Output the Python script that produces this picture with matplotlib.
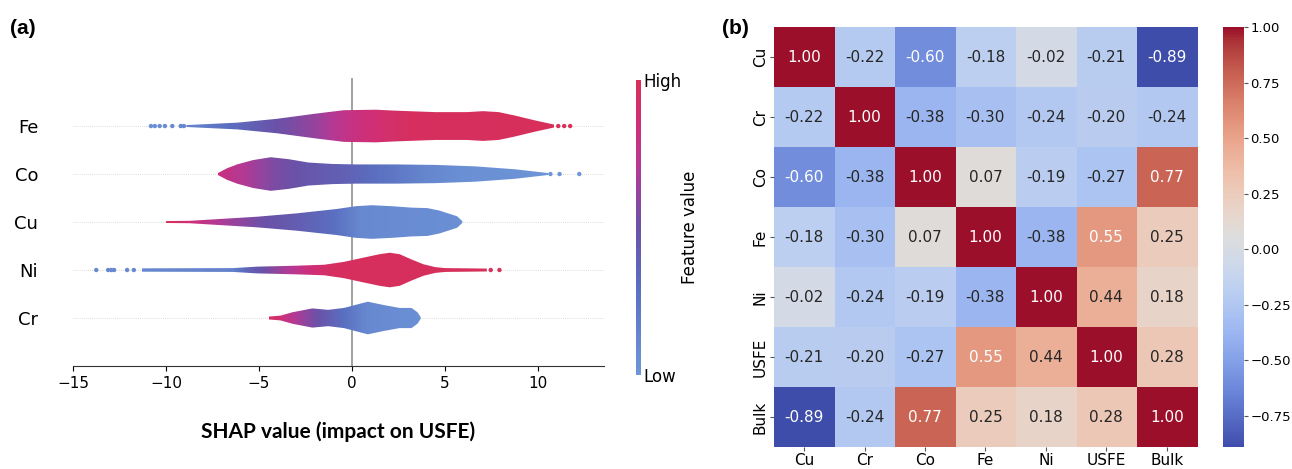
import numpy as np
import matplotlib
matplotlib.use("Agg")
import matplotlib.pyplot as plt
from matplotlib.colors import LinearSegmentedColormap, ListedColormap, Normalize
from matplotlib.patches import Polygon

# ---- panel (a): SHAP violin summary ----
features = ["Fe", "Co", "Cu", "Ni", "Cr"]   # top to bottom

# violin outline: x knots and half widths (row spacing = 1)
prof_x = {
    "Fe": [-8.9, -6.18, -4.05, -1.92, -0.43, 1.28, 2.35, 4.48, 6.18, 7.04, 7.89, 8.74, 9.81, 10.87],
    "Co": [-7.21, -6.72, -6.18, -5.33, -4.37, -3.41, -2.35, -1.07, 0.21, 2.35, 4.48, 6.61, 8.74, 10.55],
    "Cu": [-10.02, -8.74, -7.25, -5.12, -2.99, -0.85, 0.21, 1.07, 2.13, 3.20, 4.05, 4.69, 5.33, 5.65, 5.93],
    "Ni": [-11.3, -6.4, -5.12, -2.99, -1.49, -0.43, 0.64, 1.49, 2.03, 2.56, 3.20, 3.84, 4.48, 5.01, 7.25],
    "Cr": [-4.48, -3.84, -3.20, -2.13, -1.28, -0.43, 0.85, 1.71, 2.56, 3.20, 3.52, 3.69],
}
prof_w = {
    "Fe": [0.02, 0.07, 0.15, 0.26, 0.33, 0.34, 0.32, 0.29, 0.29, 0.31, 0.29, 0.22, 0.12, 0.03],
    "Co": [0.02, 0.12, 0.20, 0.29, 0.35, 0.31, 0.24, 0.21, 0.20, 0.20, 0.19, 0.16, 0.10, 0.02],
    "Cu": [0.02, 0.025, 0.06, 0.11, 0.18, 0.27, 0.33, 0.35, 0.33, 0.30, 0.29, 0.24, 0.16, 0.12, 0.02],
    "Ni": [0.035, 0.04, 0.07, 0.09, 0.11, 0.17, 0.26, 0.33, 0.36, 0.33, 0.22, 0.12, 0.06, 0.04, 0.03],
    "Cr": [0.03, 0.05, 0.12, 0.20, 0.17, 0.21, 0.34, 0.27, 0.21, 0.21, 0.12, 0.02],
}
# mean feature value (0 = low, 1 = high) along x
col_x = {
    "Fe": [-10.8, -8.5, -6, -4, -2, 0, 1.5, 3, 12],
    "Co": [-7.2, -6, -4.2, -2, 0, 2, 4, 6, 12.3],
    "Cu": [-10, -8.7, -7, -5, -3, -1, 0.5, 6],
    "Ni": [-13.8, -6.5, -5.5, -4, -2.5, -1, 8],
    "Cr": [-4.5, -3.6, -2.5, -1.5, -0.5, 0.8, 3.7],
}
col_v = {
    "Fe": [0.05, 0.15, 0.35, 0.5, 0.62, 0.8, 0.88, 0.97, 1.0],
    "Co": [0.82, 0.72, 0.55, 0.45, 0.38, 0.25, 0.12, 0.05, 0.0],
    "Cu": [1.0, 0.85, 0.68, 0.52, 0.42, 0.3, 0.1, 0.05],
    "Ni": [0.1, 0.15, 0.4, 0.62, 0.82, 0.97, 1.0],
    "Cr": [1.0, 0.8, 0.6, 0.45, 0.3, 0.1, 0.05],
}
# outlier dots
dots = {
    "Fe": [-10.81, -10.60, -10.34, -10.06, -9.66, -9.21, -9.04, 11.09, 11.41, 11.73],
    "Co": [10.67, 11.16, 12.22],
    "Cu": [],
    "Ni": [-13.75, -13.11, -12.94, -12.79, -12.09, -11.73, 7.46, 7.93],
    "Cr": [],
}

# ---- panel (b): correlation matrix ----
corr_labels = ["Cu", "Cr", "Co", "Fe", "Ni", "USFE", "Bulk"]
corr = np.array([
    [1.00, -0.22, -0.60, -0.18, -0.02, -0.21, -0.89],
    [-0.22, 1.00, -0.38, -0.30, -0.24, -0.20, -0.24],
    [-0.60, -0.38, 1.00, 0.07, -0.19, -0.27, 0.77],
    [-0.18, -0.30, 0.07, 1.00, -0.38, 0.55, 0.25],
    [-0.02, -0.24, -0.19, -0.38, 1.00, 0.44, 0.18],
    [-0.21, -0.20, -0.27, 0.55, 0.44, 1.00, 0.28],
    [-0.89, -0.24, 0.77, 0.25, 0.18, 0.28, 1.00],
])
cbar_ticks = [-0.75, -0.50, -0.25, 0.00, 0.25, 0.50, 0.75, 1.00]

shap_cmap = LinearSegmentedColormap.from_list("shapish", [
    (0.0, "#6e96d8"), (0.3, "#5a6fc0"), (0.5, "#6a52a8"),
    (0.7, "#b23a96"), (0.85, "#cf2f78"), (1.0, "#d8305a")])

# coolwarm, a little washed out like the scanned figure
cw = plt.cm.coolwarm(np.linspace(0, 1, 256))[:, :3]
gray = (cw @ np.array([0.299, 0.587, 0.114]))[:, None]
heat_cmap = ListedColormap(np.clip(0.8 * cw + 0.2 * gray, 0, 1))

fig = plt.figure(figsize=(12.92, 4.69), dpi=100)

# ---------------- (a) ----------------
ax = fig.add_axes([0.0565, 0.2196, 0.411, 0.614])
n = len(features)
ax.axvline(0, color="#999999", lw=1.3, zorder=0)
for i, name in enumerate(features):
    y = n - 1 - i
    ax.plot([-15, 13.55], [y, y], color="#d0d0d0", lw=0.6, dashes=(1, 1.5), zorder=-1)
    xs = np.array(prof_x[name])
    hw = np.array(prof_w[name])
    verts = np.concatenate([np.column_stack([xs, y + hw]),
                            np.column_stack([xs[::-1], y - hw[::-1]])])
    patch = Polygon(verts, closed=True, facecolor="none", edgecolor="none")
    ax.add_patch(patch)
    gx = np.linspace(xs[0], xs[-1], 500)
    gc = np.interp(gx, col_x[name], col_v[name])
    im = ax.imshow(gc[None, :], cmap=shap_cmap, vmin=0, vmax=1, aspect="auto",
                   extent=[xs[0], xs[-1], y - 0.5, y + 0.5], interpolation="bilinear", zorder=2)
    im.set_clip_path(patch)
    if dots[name]:
        d = np.array(dots[name])
        ax.scatter(d, np.full(len(d), y), s=10, c=np.interp(d, col_x[name], col_v[name]),
                   cmap=shap_cmap, vmin=0, vmax=1, linewidths=0, zorder=3)

ax.set_xlim(-15, 13.55)
ax.set_ylim(-1, 5)
ax.set_yticks(range(n))
ax.set_yticklabels(features[::-1], fontsize=13)
ax.tick_params(axis="y", length=0, pad=25)
ax.tick_params(axis="x", labelsize=11)
ax.set_xticks([-15, -10, -5, 0, 5, 10])
for s in ["top", "right", "left"]:
    ax.spines[s].set_visible(False)
ax.spines["bottom"].set_color("#333333")
ax.set_xlabel("SHAP value (impact on USFE)", fontsize=15, fontweight="bold",
              family="Lato", labelpad=22)

cax1 = fig.add_axes([0.4923, 0.2004, 0.0035, 0.629])
cb1 = fig.colorbar(plt.cm.ScalarMappable(norm=Normalize(0, 1), cmap=shap_cmap), cax=cax1)
cb1.set_ticks([0, 1])
cb1.set_ticklabels(["Low", "High"])
cb1.ax.tick_params(labelsize=12, length=0, pad=2)
cb1.outline.set_visible(False)
cb1.set_label("Feature value", size=12, labelpad=0)

fig.text(0.008, 0.94, "(a)", fontsize=15, fontweight="bold", family="Liberation Sans", va="center")

# ---------------- (b) ----------------
ax2 = fig.add_axes([0.599, 0.0469, 0.3274, 0.8955])
norm = Normalize(vmin=corr.min(), vmax=1.0)
hm = ax2.imshow(corr, cmap=heat_cmap, norm=norm, aspect="auto")
for r in range(corr.shape[0]):
    for c in range(corr.shape[1]):
        rgb = np.array(heat_cmap(norm(corr[r, c]))[:3])
        lin = np.where(rgb <= 0.03928, rgb / 12.92, ((rgb + 0.055) / 1.055) ** 2.4)
        lum = 0.2126 * lin[0] + 0.7152 * lin[1] + 0.0722 * lin[2]
        ax2.text(c, r, f"{corr[r, c]:.2f}", ha="center", va="center", fontsize=11,
                 color="#262626" if lum > 0.408 else "white")
ax2.set_xticks(range(len(corr_labels)))
ax2.set_xticklabels(corr_labels, fontsize=11)
ax2.set_yticks(range(len(corr_labels)))
ax2.set_yticklabels(corr_labels, fontsize=11, rotation=90, va="center")
ax2.tick_params(length=3, width=0.8, color="#555555", pad=1.5)
for s in ax2.spines.values():
    s.set_visible(False)

cax2 = fig.add_axes([0.9466, 0.0469, 0.01625, 0.8955])
cb2 = fig.colorbar(hm, cax=cax2)
cb2.set_ticks(cbar_ticks)
cb2.ax.tick_params(labelsize=9.5, length=3, width=0.8, color="#555555", pad=1.5)
cb2.outline.set_visible(False)

fig.text(0.559, 0.94, "(b)", fontsize=15, fontweight="bold", family="Liberation Sans", va="center")

fig.savefig("out.png", dpi=100)
